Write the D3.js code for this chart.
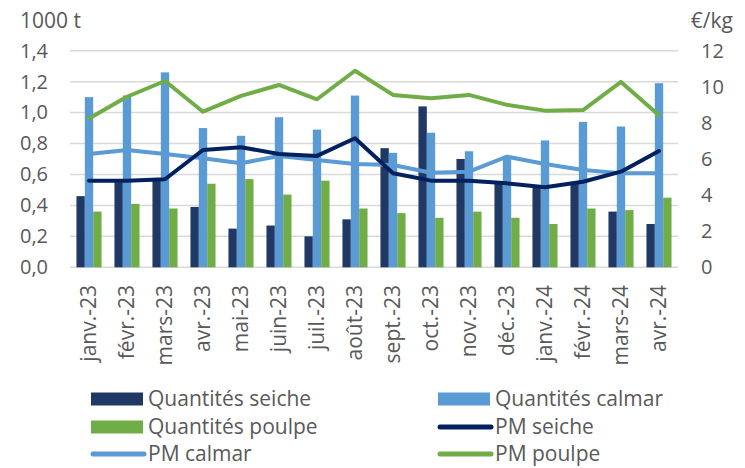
<!DOCTYPE html>
<html>
<head>
<meta charset="utf-8">
<script src="https://cdn.jsdelivr.net/npm/d3@7"></script>
<style>
  body { margin: 0; background: #fff; }
  svg text { font-family: "Open Sans", "Noto Sans", sans-serif; fill: #595959; }
</style>
</head>
<body>
<div id="chart"></div>
<script>
var months = ["janv.-23", "févr.-23", "mars-23", "avr.-23", "mai-23", "juin-23", "juil.-23", "août-23",
    "sept.-23", "oct.-23", "nov.-23", "déc.-23", "janv.-24", "févr.-24", "mars-24", "avr.-24"];

// quantités, en milliers de tonnes (axe gauche)
var qteSeiche = [0.46, 0.55, 0.56, 0.39, 0.25, 0.27, 0.20, 0.31, 0.77, 1.04, 0.70, 0.55, 0.53, 0.55, 0.36, 0.28];
var qteCalmar = [1.10, 1.11, 1.26, 0.90, 0.85, 0.97, 0.89, 1.11, 0.74, 0.87, 0.75, 0.72, 0.82, 0.94, 0.91, 1.19];
var qtePoulpe = [0.36, 0.41, 0.38, 0.54, 0.57, 0.47, 0.56, 0.38, 0.35, 0.32, 0.36, 0.32, 0.28, 0.38, 0.37, 0.45];

// prix moyens, en €/kg (axe droit)
var pmSeiche = [4.8, 4.8, 4.88, 6.5, 6.65, 6.28, 6.17, 7.15, 5.21, 4.8, 4.8, 4.65, 4.43, 4.74, 5.3, 6.44];
var pmCalmar = [6.28, 6.5, 6.28, 6.04, 5.76, 6.17, 5.94, 5.72, 5.67, 5.24, 5.3, 6.13, 5.72, 5.39, 5.21, 5.21];
var pmPoulpe = [8.25, 9.45, 10.32, 8.62, 9.5, 10.1, 9.31, 10.89, 9.55, 9.36, 9.55, 9.0, 8.68, 8.71, 10.27, 8.42];

var leftTicks = [0, 0.2, 0.4, 0.6, 0.8, 1.0, 1.2, 1.4];
var rightTicks = [0, 2, 4, 6, 8, 10, 12];

var barSeries = [
    {name: "Quantités seiche", values: qteSeiche, color: "#203864"},
    {name: "Quantités calmar", values: qteCalmar, color: "#5b9bd5"},
    {name: "Quantités poulpe", values: qtePoulpe, color: "#70ad47"}
];
var lineSeries = [
    {name: "PM seiche", values: pmSeiche, color: "#002060"},
    {name: "PM calmar", values: pmCalmar, color: "#5b9bd5"},
    {name: "PM poulpe", values: pmPoulpe, color: "#70ad47"}
];

var width = 745, height = 468;
var plotLeft = 70, plotRight = 678, plotTop = 50.7, plotBottom = 267.3;

var svg = d3.select("#chart").append("svg")
    .attr("width", width)
    .attr("height", height);

var x0 = d3.scaleBand().domain(months).range([plotLeft, plotRight]);
var bw = x0.bandwidth();
var x1 = d3.scaleBand().domain(barSeries.map(function (s) { return s.name; }))
    .range([bw * 0.17, bw * 0.83]);
var yL = d3.scaleLinear().domain([0, 1.4]).range([plotBottom, plotTop]);
var yR = d3.scaleLinear().domain([0, 12]).range([plotBottom, plotTop]);

// gridlines
svg.append("g").selectAll("line")
    .data(leftTicks)
    .enter().append("line")
    .attr("x1", plotLeft).attr("x2", plotRight)
    .attr("y1", function (d) { return yL(d); })
    .attr("y2", function (d) { return yL(d); })
    .attr("stroke", "#d9d9d9")
    .attr("stroke-width", 1.5);

// left axis labels
var axL = svg.append("g").attr("transform", "translate(48,0)")
    .call(d3.axisLeft(yL).tickValues(leftTicks).tickSize(0)
        .tickFormat(function (d) { return d3.format(".1f")(d).replace(".", ","); }));
axL.select(".domain").remove();
axL.selectAll("text").attr("x", 0).style("font-size", "20px").style("fill", "#595959")
    .style("font-family", "'Open Sans', 'Noto Sans', sans-serif");

// right axis labels
var axR = svg.append("g").attr("transform", "translate(701,0)")
    .call(d3.axisRight(yR).tickValues(rightTicks).tickSize(0));
axR.select(".domain").remove();
axR.selectAll("text").attr("x", 0).style("font-size", "20px").style("fill", "#595959")
    .style("font-family", "'Open Sans', 'Noto Sans', sans-serif");

svg.append("text").attr("x", 20).attr("y", 28).style("font-size", "21px").text("1000 t");
svg.append("text").attr("x", 733).attr("y", 28).attr("text-anchor", "end")
    .style("font-size", "21px").text("€/kg");

// bars
barSeries.forEach(function (s) {
    svg.append("g").selectAll("rect")
        .data(s.values)
        .enter().append("rect")
        .attr("x", function (d, i) { return x0(months[i]) + x1(s.name); })
        .attr("width", x1.bandwidth())
        .attr("y", function (d) { return yL(d); })
        .attr("height", function (d) { return yL(0) - yL(d); })
        .attr("fill", s.color);
});

// lines
var line = d3.line()
    .x(function (d, i) { return x0(months[i]) + bw / 2; })
    .y(function (d) { return yR(d); });

lineSeries.slice().reverse().forEach(function (s) {
    svg.append("path")
        .datum(s.values)
        .attr("d", line)
        .attr("fill", "none")
        .attr("stroke", s.color)
        .attr("stroke-width", 4)
        .attr("stroke-linejoin", "round")
        .attr("stroke-linecap", "round");
});

// x labels, rotated
svg.append("g").selectAll("text")
    .data(months)
    .enter().append("text")
    .attr("transform", function (d) {
        return "translate(" + (x0(d) + bw / 2) + ",285) rotate(-90)";
    })
    .attr("text-anchor", "end")
    .attr("dy", "0.35em")
    .style("font-size", "21px")
    .text(function (d) { return d; });

// legend
var legendItems = [
    {s: barSeries[0], type: "bar", col: 0, row: 0},
    {s: barSeries[1], type: "bar", col: 1, row: 0},
    {s: barSeries[2], type: "bar", col: 0, row: 1},
    {s: lineSeries[0], type: "line", col: 1, row: 1},
    {s: lineSeries[1], type: "line", col: 0, row: 2},
    {s: lineSeries[2], type: "line", col: 1, row: 2}
];
var colX = [91, 438];
var rowY = [399, 427, 454];

var lg = svg.append("g").selectAll("g")
    .data(legendItems)
    .enter().append("g")
    .attr("transform", function (d) { return "translate(" + colX[d.col] + "," + rowY[d.row] + ")"; });

lg.filter(function (d) { return d.type === "bar"; })
    .append("rect")
    .attr("x", 0).attr("y", -6.5).attr("width", 52).attr("height", 13)
    .attr("fill", function (d) { return d.s.color; });

lg.filter(function (d) { return d.type === "line"; })
    .append("line")
    .attr("x1", 2).attr("x2", 53).attr("y1", 0).attr("y2", 0)
    .attr("stroke", function (d) { return d.s.color; })
    .attr("stroke-width", 5)
    .attr("stroke-linecap", "round");

lg.append("text")
    .attr("x", 57)
    .attr("dy", "0.35em")
    .style("font-size", "21px")
    .text(function (d) { return d.s.name; });
</script>
</body>
</html>
